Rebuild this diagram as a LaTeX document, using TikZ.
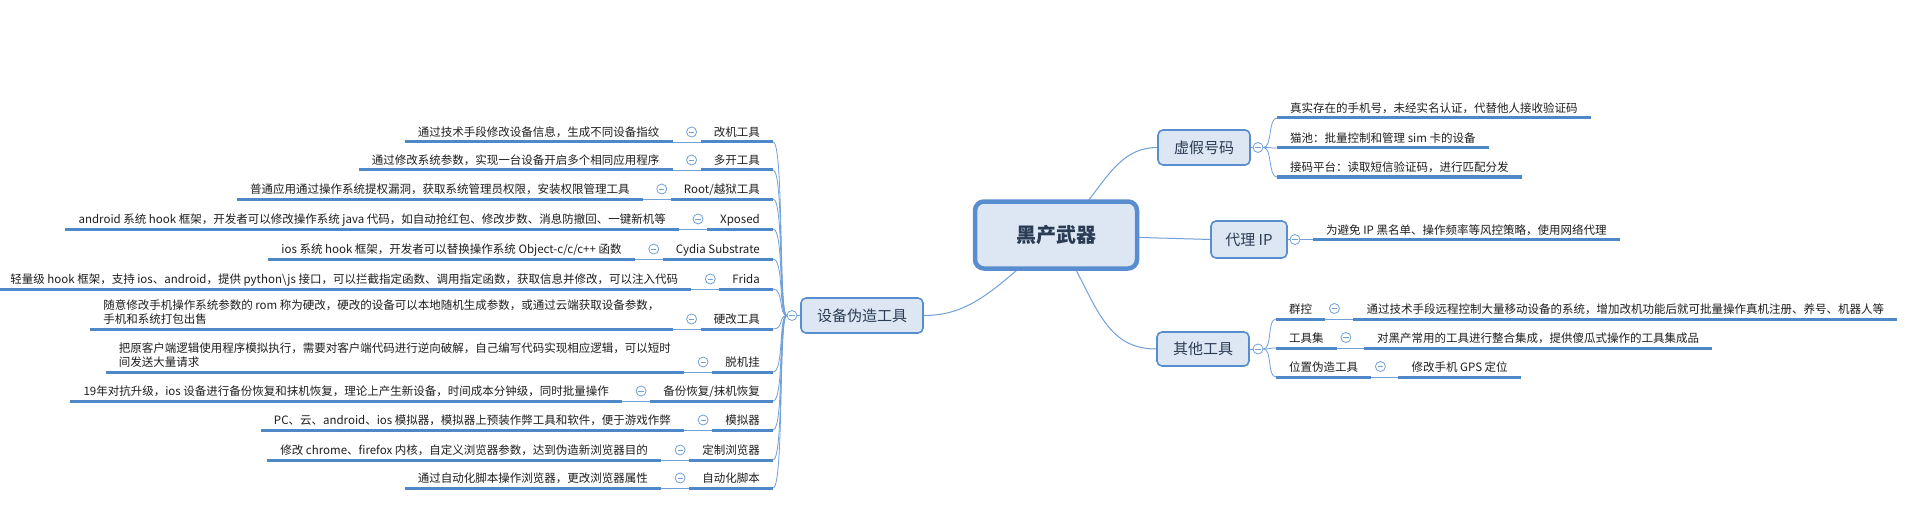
\documentclass[tikz,border=0pt]{standalone}
\usepackage{fontspec}
\setmainfont{Noto Sans CJK SC}
\usetikzlibrary{calc,backgrounds}
\definecolor{lineblue}{RGB}{79,136,201}
\definecolor{thinblue}{RGB}{112,160,215}
\definecolor{boxborder}{RGB}{88,141,207}
\definecolor{boxfill}{RGB}{221,231,243}
\definecolor{titletext}{RGB}{42,59,84}
\definecolor{leaftext}{RGB}{30,30,30}
\tikzset{
	uline/.style={draw=lineblue,line width=3pt},
	twig/.style={draw=thinblue,line width=0.8pt},
	branch/.style={draw=thinblue,line width=1pt},
	leafbase/.style={inner xsep=13pt,text=leaftext,font=\fontsize{11.5}{14.5}\selectfont,
		append after command={(\tikzlastnode.south west) edge[uline] (\tikzlastnode.south east)}},
	leaf/.style={leafbase,inner ysep=3pt,text height=9.2pt,text depth=2.3pt},
	leaftwo/.style={leafbase,inner ysep=4pt,align=left},
	topic/.style={draw=boxborder,line width=1.6pt,fill=boxfill,rounded corners=5pt,inner sep=0pt,
		font=\fontsize{15}{18}\selectfont,text=titletext},
	rootbox/.style={draw=boxborder,line width=4.5pt,fill=boxfill,rounded corners=9pt,inner sep=0pt,
		minimum width=162,minimum height=67,font=\fontsize{20}{24}\selectfont\bfseries,text=titletext},
	fold/.style={circle,draw=thinblue,line width=0.8pt,fill=white,minimum size=10pt,inner sep=0pt,
		path picture={\draw[thinblue,line width=0.8pt] ([xshift=-2.6pt]path picture bounding box.center)--([xshift=2.6pt]path picture bounding box.center);}}
}
\begin{document}
\begin{tikzpicture}[x=1pt,y=-1pt]
	\useasboundingbox (0,0) rectangle (1920,508);
	
	%ROOT AND TOPICS
	\node[rootbox] (root) at (1056,235) {黑产武器};
	\node[topic,minimum width=92,minimum height=35] (fake) at (1204,147.5) {虚假号码};
	\node[topic,minimum width=76,minimum height=37] (proxy) at (1249,239.5) {代理 IP};
	\node[topic,minimum width=92,minimum height=34] (other) at (1203,349) {其他工具};
	\node[topic,minimum width=122,minimum height=35] (dev) at (862,315.5) {设备伪造工具};
	%
	\node[fold] (fakef) at (1258,147.5) {};
	\node[fold] (proxyf) at (1295,239.5) {};
	\node[fold] (otherf) at (1258,349) {};
	\node[fold] (devf) at (792,315.5) {};
	
	%FAKE NUMBERS
	\node[leaf,anchor=south west] (fake1) at (1277,118) {真实存在的手机号，未经实名认证，代替他人接收验证码};
	\node[leaf,anchor=south west] (fake2) at (1277,148) {猫池：批量控制和管理 sim 卡的设备};
	\node[leaf,anchor=south west] (fake3) at (1277,177) {接码平台：读取短信验证码，进行匹配分发};
	
	%PROXY
	\node[leaf,anchor=south west] (proxy1) at (1313,239.5) {为避免 IP 黑名单、操作频率等风控策略，使用网络代理};
	
	%OTHER TOOLS
	\node[leaf,anchor=south west] (o1) at (1276,319) {群控};
	\node[leaf,anchor=south west] (o2) at (1276,348) {工具集};
	\node[leaf,anchor=south west] (o3) at (1276,377) {位置伪造工具};
	\node[leaf,anchor=south west] (od1) at ($(o1.south east)+(28,0)$) {通过技术手段远程控制大量移动设备的系统，增加改机功能后就可批量操作真机注册、养号、机器人等};
	\node[leaf,anchor=south west] (od2) at ($(o2.south east)+(27,0)$) {对黑产常用的工具进行整合集成，提供傻瓜式操作的工具集成品};
	\node[leaf,anchor=south west] (od3) at ($(o3.south east)+(27,0)$) {修改手机 GPS 定位};
	\foreach \i in {1,2,3} \node[fold] (of\i) at ($(o\i.south east)+(9,-10.5)$) {};
	
	%DEVICE TOOLS
	\node[leaf,anchor=south east] (t1) at (773,142) {改机工具};
	\node[leaf,anchor=south east] (t2) at (773,170) {多开工具};
	\node[leaf,anchor=south east] (t3) at (773,199) {Root/越狱工具};
	\node[leaf,anchor=south east] (t4) at (773,229) {Xposed};
	\node[leaf,anchor=south east] (t5) at (773,259) {Cydia Substrate};
	\node[leaf,anchor=south east] (t6) at (773,289) {Frida};
	\node[leaf,anchor=south east] (t7) at (773,329) {硬改工具};
	\node[leaf,anchor=south east] (t8) at (773,372) {脱机挂};
	\node[leaf,anchor=south east] (t9) at (773,401) {备份恢复/抹机恢复};
	\node[leaf,anchor=south east] (t10) at (773,430) {模拟器};
	\node[leaf,anchor=south east] (t11) at (773,460) {定制浏览器};
	\node[leaf,anchor=south east] (t12) at (773,488) {自动化脚本};
	%
	\node[leaf,anchor=south east] (d1) at ($(t1.south west)+(-28,0)$) {通过技术手段修改设备信息，生成不同设备指纹};
	\node[leaf,anchor=south east] (d2) at ($(t2.south west)+(-28,0)$) {通过修改系统参数，实现一台设备开启多个相同应用程序};
	\node[leaf,anchor=south east] (d3) at ($(t3.south west)+(-28,0)$) {普通应用通过操作系统提权漏洞，获取系统管理员权限，安装权限管理工具};
	\node[leaf,anchor=south east] (d4) at ($(t4.south west)+(-28,0)$) {android 系统 hook 框架，开发者可以修改操作系统 java 代码，如自动抢红包、修改步数、消息防撤回、一键新机等};
	\node[leaf,anchor=south east] (d5) at ($(t5.south west)+(-28,0)$) {ios 系统 hook 框架，开发者可以替换操作系统 Object-c/c/c++ 函数};
	\node[leaf,anchor=south east] (d6) at ($(t6.south west)+(-28,0)$) {轻量级 hook 框架，支持 ios、android，提供 python\textbackslash js 接口，可以拦截指定函数、调用指定函数，获取信息并修改，可以注入代码};
	\node[leaftwo,anchor=south east] (d7) at ($(t7.south west)+(-28,0)$) {随意修改手机操作系统参数的 rom 称为硬改，硬改的设备可以本地随机生成参数，或通过云端获取设备参数，\\手机和系统打包出售};
	\node[leaftwo,anchor=south east] (d8) at ($(t8.south west)+(-28,0)$) {把原客户端逻辑使用程序模拟执行，需要对客户端代码进行逆向破解，自己编写代码实现相应逻辑，可以短时\\间发送大量请求};
	\node[leaf,anchor=south east] (d9) at ($(t9.south west)+(-28,0)$) {19年对抗升级，ios 设备进行备份恢复和抹机恢复，理论上产生新设备，时间成本分钟级，同时批量操作};
	\node[leaf,anchor=south east] (d10) at ($(t10.south west)+(-28,0)$) {PC、云、android、ios 模拟器，模拟器上预装作弊工具和软件，便于游戏作弊};
	\node[leaf,anchor=south east] (d11) at ($(t11.south west)+(-28,0)$) {修改 chrome、firefox 内核，自定义浏览器参数，达到伪造新浏览器目的};
	\node[leaf,anchor=south east] (d12) at ($(t12.south west)+(-28,0)$) {通过自动化脚本操作浏览器，更改浏览器属性};
	\foreach \i in {1,...,12} \node[fold] (tf\i) at ($(t\i.south west)+(-9,-10)$) {};
	
	%CONNECTORS
	\begin{scope}[on background layer]
		\fill[white] (0,0) rectangle (1920,508);
		\draw[branch] (root.center) .. controls +(44,-35) and +(-47,0) .. (fake.west);
		\draw[branch] (root.center) -- (proxy.west);
		\draw[branch] (root.center) .. controls +(39,60) and +(-56,0) .. (other.west);
		\draw[branch] (root.center) .. controls +(-61,55) and +(46,0) .. (dev.east);
		%
		\draw[twig] (fake.east) -- (fakef);
		\draw[twig] (proxy.east) -- (proxyf);
		\draw[twig] (other.east) -- (otherf);
		\draw[twig] (dev.west) -- (devf);
		%
		\foreach \i in {1,2,3} \draw[twig] (fakef.east) .. controls +(9,0) and +(-9,0) .. (fake\i.south west);
		\draw[twig] (proxyf.east) -- (proxy1.south west);
		\foreach \i in {1,2,3} {
			\draw[twig] (otherf.east) .. controls +(9,0) and +(-9,0) .. (o\i.south west);
			\draw[twig] (o\i.south east) -- (od\i.south west);
		}
		\foreach \i in {1,...,12} {
			\draw[twig] (devf.west) .. controls +(-8,0) and +(11,0) .. (t\i.south east);
			\draw[twig] (d\i.south east) -- (t\i.south west);
		}
	\end{scope}
\end{tikzpicture}
\end{document}
